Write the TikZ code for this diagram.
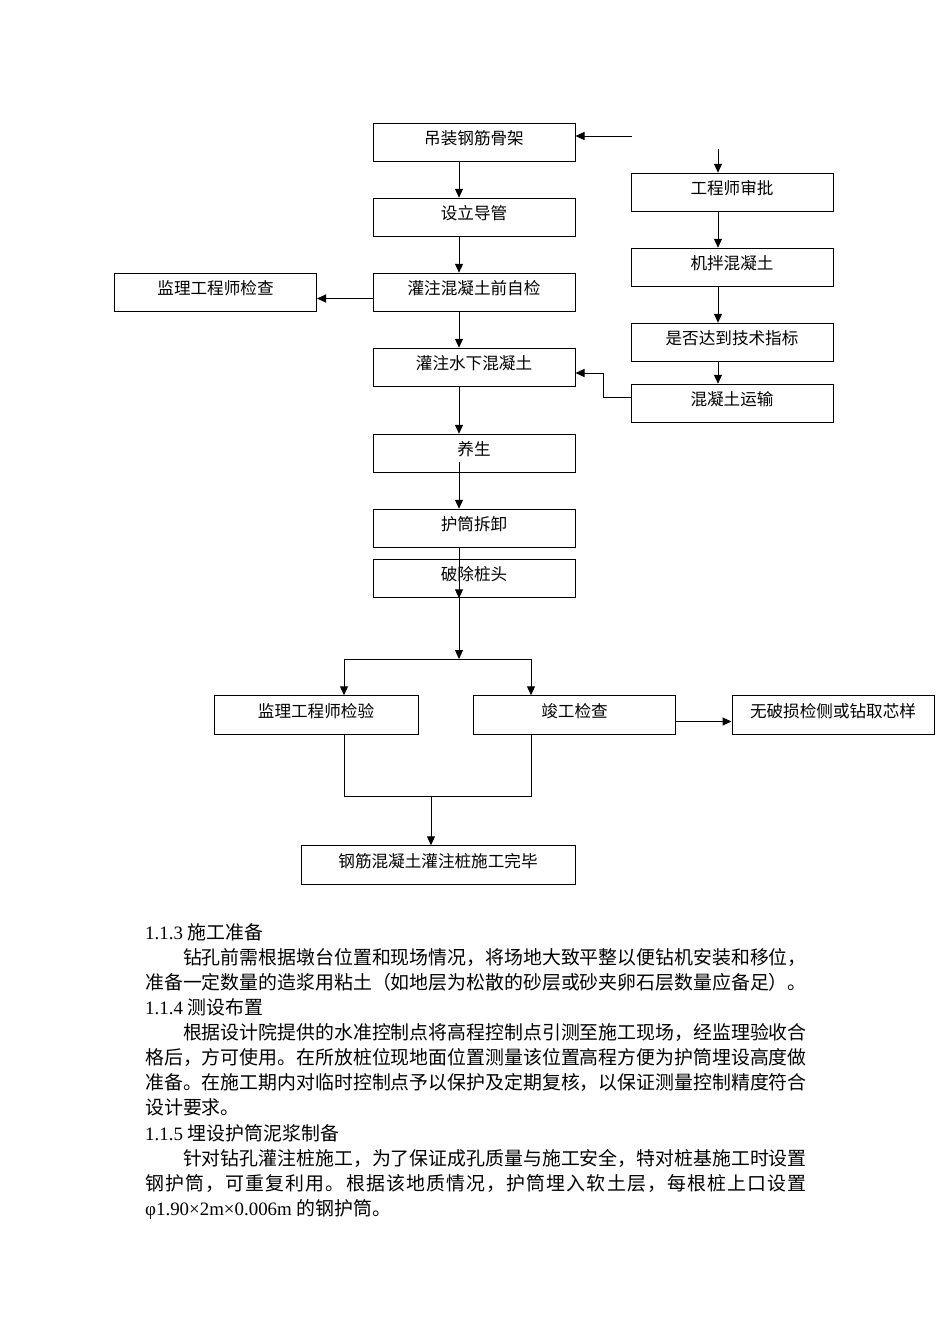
\documentclass[tikz,border=0pt]{standalone}
\usepackage{fontspec}
\setmainfont{Liberation Serif}
\newfontfamily\cjk{Noto Sans CJK SC}
\usetikzlibrary{arrows.meta}
% stretchable gaps between CJK characters, used by the justified lines
\newXeTeXintercharclass\zhclass
\newcount\zhcode
\zhcode="4E00
\loop \XeTeXcharclass\zhcode=\zhclass \advance\zhcode by 1 \ifnum\zhcode<"A000 \repeat
\XeTeXcharclass"FF0C=\zhclass
\XeTeXcharclass"3002=\zhclass
\XeTeXcharclass"FF08=\zhclass
\XeTeXcharclass"FF09=\zhclass
\XeTeXinterchartokenstate=1
\XeTeXinterchartoks\zhclass\zhclass = {\hskip 0pt plus 1pt}
\setlength{\parindent}{0pt}

\begin{document}
\begin{tikzpicture}[
x=1pt, y=-1pt, node distance=75pt,
box/.style={rectangle, draw=black, line width=1pt, minimum width=202pt, minimum height=38.5pt, inner sep=0pt, text height=12pt, text depth=8pt, font=\cjk\fontsize{16.6}{20}\selectfont},
arr/.style={-{Triangle[length=9pt,width=8pt]}, line width=1pt},
txt/.style={anchor=west, inner sep=0pt, text height=16.4pt, text depth=2pt, font=\cjk\fontsize{18.9}{25}\selectfont}
]
\useasboundingbox (0,0) rectangle (950,1344);
%Nodes
\node[box]      (lift)      at (474,142.5)                          {吊装钢筋骨架};
\node[box]      (pipe)      [below of=lift]                         {设立导管};
\node[box]      (selfchk)   [below of=pipe]                         {灌注混凝土前自检};
\node[box]      (pour)      [below of=selfchk]                      {灌注水下混凝土};
\node[box]      (cure)      [below of=pour, yshift=-11pt]           {养生};
\node[box]      (remove)    [below of=cure]                         {护筒拆卸};
\node[box]      (cut)       [below of=remove, yshift=25pt]          {破除桩头};
\node[box]      (supchk)    [left of=selfchk, xshift=-183.5pt]      {监理工程师检查};
\node[box]      (approve)   [right of=lift, xshift=183pt, yshift=-50pt] {工程师审批};
\node[box]      (mix)       [below of=approve]                      {机拌混凝土};
\node[box]      (target)    [below of=mix]                          {是否达到技术指标};
\node[box]      (transport) [below of=target, yshift=14pt]          {混凝土运输};
\node[box, minimum width=204pt] (supinsp) at (316,715)             {监理工程师检验};
\node[box]      (final)     [right of=supinsp, xshift=183.5pt]      {竣工检查};
\node[box]      (ndt)       [right of=final, xshift=183.5pt]        {无破损检侧或钻取芯样};
\node[box, minimum width=274pt] (done) at (438,865)                {钢筋混凝土灌注桩施工完毕};
%Points
\coordinate (lx) at (459,0);
\coordinate (rx) at (718,0);
\coordinate (xl) at (344,0);
\coordinate (xr) at (531,0);
\coordinate (inA) at (632,136);
\coordinate (inB) at (718,149);
\coordinate (bend) at (603,373);
\coordinate (split) at (459,659);
\coordinate (join) at (431,796);
%Lines
\draw[arr] (inA) -- (inA -| lift.east);
\draw[arr] (inB) -- (inB |- approve.north);
\draw[arr] (lift.south -| lx) -- (pipe.north -| lx);
\draw[arr] (pipe.south -| lx) -- (selfchk.north -| lx);
\draw[arr] (selfchk.south -| lx) -- (pour.north -| lx);
\draw[arr] ([yshift=-6pt]selfchk.west) -- ([yshift=-6pt]supchk.east);
\draw[arr] (pour.south -| lx) -- (cure.north -| lx);
\draw[arr] ([yshift=-8pt]cure.center -| lx) -- (remove.north -| lx);
\draw[arr] (remove.south -| lx) -- (cut.south -| lx);
\draw[arr] (cut.south -| lx) -- (split);
\draw[arr] (split) -| (supinsp.north -| xl);
\draw[arr] (split) -| (final.north -| xr);
\draw[arr] (approve.south -| rx) -- (mix.north -| rx);
\draw[arr] (mix.south -| rx) -- (target.north -| rx);
\draw[arr] (target.south -| rx) -- (transport.north -| rx);
\draw[arr] ([yshift=6.5pt]transport.west) -| (bend) -- (bend -| pour.east);
\draw[arr] ([yshift=-6.5pt]final.east) -- ([yshift=-6.5pt]ndt.west);
\draw[line width=1pt] (supinsp.south -| xl) |- (join -| xr) -- (final.south -| xr);
\draw[arr] (join) -- (done.north -| join);
%Text
\node[txt] (t1)  at (145,932)    {{\rmfamily 1.1.3 }施工准备};
\node[txt] (t2)  at (145,957.1)  {\makebox[661.5pt][s]{\hspace*{2em}钻孔前需根据墩台位置和现场情况，将场地大致平整以便钻机安装和移位，}};
\node[txt] (t3)  at (145,982.2)  {\makebox[661.5pt][s]{准备一定数量的造浆用粘土（如地层为松散的砂层或砂夹卵石层数量应备足）。}};
\node[txt] (t4)  at (145,1007.3) {{\rmfamily 1.1.4 }测设布置};
\node[txt] (t5)  at (145,1032.4) {\makebox[661.5pt][s]{\hspace*{2em}根据设计院提供的水准控制点将高程控制点引测至施工现场，经监理验收合}};
\node[txt] (t6)  at (145,1057.5) {\makebox[661.5pt][s]{格后，方可使用。在所放桩位现地面位置测量该位置高程方便为护筒埋设高度做}};
\node[txt] (t7)  at (145,1082.6) {\makebox[661.5pt][s]{准备。在施工期内对临时控制点予以保护及定期复核，以保证测量控制精度符合}};
\node[txt] (t8)  at (145,1107.7) {设计要求。};
\node[txt] (t9)  at (145,1132.8) {{\rmfamily 1.1.5 }埋设护筒泥浆制备};
\node[txt] (t10) at (145,1157.9) {\makebox[661.5pt][s]{\hspace*{2em}针对钻孔灌注桩施工，为了保证成孔质量与施工安全，特对桩基施工时设置}};
\node[txt] (t11) at (145,1183)   {\makebox[661.5pt][s]{钢护筒，可重复利用。根据该地质情况，护筒埋入软土层，每根桩上口设置}};
\node[txt] (t12) at (145,1208.1) {{\rmfamily φ1.90×2m×0.006m }的钢护筒。};
\end{tikzpicture}
\end{document}
